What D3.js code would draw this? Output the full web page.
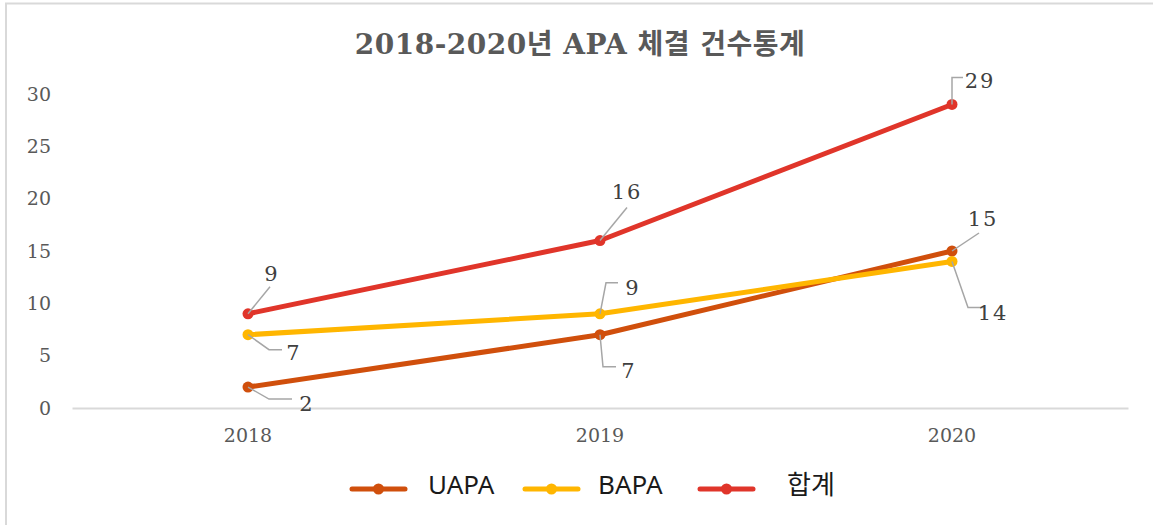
<!DOCTYPE html>
<html>
<head>
<meta charset="utf-8">
<script src="https://cdn.jsdelivr.net/npm/d3@7"></script>
<style>
  body { margin: 0; background: #fff; }
  svg { display: block; }
</style>
</head>
<body>
<div id="chart"></div>
<script>

var years = ["2018", "2019", "2020"];
var uapa = [2, 7, 15];
var bapa = [7, 9, 14];
var total = [9, 16, 29];
var seriesNames = ["UAPA", "BAPA", "합계"];
var yTicks = [0, 5, 10, 15, 20, 25, 30];

function init(){

	var w = 1153;
	var h = 525;
	var colors = ["#D04F0C", "#FFB600", "#E0352A"];
	var serif = "'DejaVu Serif', 'Liberation Serif', serif";

	// label leader layout per series / point: [elbow dx, elbow dy, end dx, text dx, text dy]
	var labelLayout = [
		[[21, 12, 44, 58, 16], [3, 32, 16, 28, 36], [27, -18, 27, 30, -33]],
		[[21, 15, 34, 45, 18], [6, -31, 18, 32, -26], [16, 46, 32, 40, 51]],
		[[22, -27, 22, 23, -40], [27, -33, 27, 26, -49], [0, -27, 11, 27, -24]]
	];

	var svg = d3.select("#chart")
				.append("svg")
				.attr("width", w)
				.attr("height", h);

	// chart frame (partly cropped)
	svg.append("path")
		.attr("d", "M6,525 V3.5 H1153")
		.attr("fill", "none")
		.attr("stroke", "#d9d9d9")
		.attr("stroke-width", 2);

	var xScale = d3.scaleBand()
					.domain(years)
					.range([72, 1128]);

	var yScale = d3.scaleLinear()
					.domain([0, 30])
					.range([408, 94]);

	var cx = function(i){ return xScale(years[i]) + xScale.bandwidth() / 2; };

	// title
	svg.append("text")
		.attr("x", 580)
		.attr("y", 54)
		.attr("text-anchor", "middle")
		.attr("font-family", serif + ", 'Noto Sans CJK KR'")
		.attr("font-weight", "bold")
		.attr("font-size", 28)
		.attr("letter-spacing", 0.5)
		.attr("fill", "#595959")
		.text("2018-2020년 APA 체결 건수통계");

	// x axis
	var xAxis = d3.axisBottom(xScale).tickSize(0).tickPadding(21);
	var gx = svg.append("g")
		.attr("transform", "translate(0," + yScale(0) + ")")
		.call(xAxis);
	gx.select(".domain").attr("stroke", "#d9d9d9").attr("stroke-width", 2);
	gx.selectAll("text")
		.attr("font-family", serif)
		.attr("font-size", 19)
		.attr("fill", "#595959");

	// y axis (labels only)
	var yAxis = d3.axisLeft(yScale).tickValues(yTicks).tickSize(0).tickPadding(0);
	var gy = svg.append("g")
		.attr("transform", "translate(51,0)")
		.call(yAxis);
	gy.select(".domain").remove();
	gy.selectAll("text")
		.attr("font-family", serif)
		.attr("font-size", 19)
		.attr("fill", "#595959");

	var allSeries = [uapa, bapa, total];

	var line = d3.line()
		.x(function(d, i){ return cx(i); })
		.y(function(d){ return yScale(d); });

	allSeries.forEach(function(s, k){
		svg.append("path")
			.datum(s)
			.attr("d", line)
			.attr("fill", "none")
			.attr("stroke", colors[k])
			.attr("stroke-width", 5)
			.attr("stroke-linecap", "round")
			.attr("stroke-linejoin", "round");
	});

	allSeries.forEach(function(s, k){
		svg.selectAll(".dot" + k)
			.data(s)
			.enter()
			.append("circle")
			.attr("cx", function(d, i){ return cx(i); })
			.attr("cy", function(d){ return yScale(d); })
			.attr("r", 5.5)
			.attr("fill", colors[k]);
	});

	// data labels with leader lines
	allSeries.forEach(function(s, k){
		s.forEach(function(d, i){
			var L = labelLayout[k][i];
			var x0 = cx(i), y0 = yScale(d);
			svg.append("polyline")
				.attr("points", [[x0, y0], [x0 + L[0], y0 + L[1]], [x0 + L[2], y0 + L[1]]].map(function(p){ return p.join(","); }).join(" "))
				.attr("fill", "none")
				.attr("stroke", "#a6a6a6")
				.attr("stroke-width", 1.5);
			svg.append("text")
				.attr("x", x0 + L[3] + 1)
				.attr("y", y0 + L[4])
				.attr("dy", "0.36em")
				.attr("text-anchor", "middle")
				.attr("font-family", serif)
				.attr("font-size", 21)
				.attr("letter-spacing", 2)
				.attr("fill", "#404040")
				.text(d);
		});
	});

	// legend
	var legendX = [352, 525, 700];
	var legendTextX = [76, 73, 87];
	var legend = svg.selectAll(".legend")
		.data(seriesNames)
		.enter()
		.append("g")
		.attr("transform", function(d, i){ return "translate(" + legendX[i] + ",489)"; });
	legend.append("line")
		.attr("x1", 0).attr("x2", 53)
		.attr("stroke", function(d, i){ return colors[i]; })
		.attr("stroke-width", 5)
		.attr("stroke-linecap", "round");
	legend.append("circle")
		.attr("cx", 26.5)
		.attr("r", 5.5)
		.attr("fill", function(d, i){ return colors[i]; });
	legend.append("text")
		.attr("x", function(d, i){ return legendTextX[i]; })
		.attr("y", 5)
		.attr("font-family", "'Noto Sans', 'Noto Sans CJK KR', sans-serif")
		.attr("font-size", 26)
		.attr("fill", "#1a1a1a")
		.text(function(d){ return d; });
}

window.onload = init;
</script>
</body>
</html>
